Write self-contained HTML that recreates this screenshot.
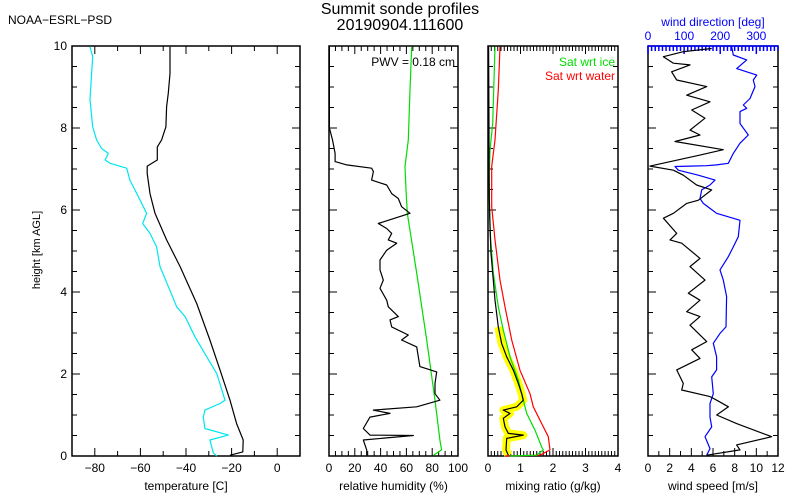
<!DOCTYPE html>
<html><head><meta charset="utf-8"><style>
body{margin:0;background:#fff;width:800px;height:500px;overflow:hidden}
svg{display:block}
text{font-family:"Liberation Sans",sans-serif;}
</style></head><body>
<svg id="c" width="800" height="500" viewBox="0 0 800 500">
<text x="8" y="24" font-size="12">NOAA−ESRL−PSD</text>
<text x="400" y="14" font-size="16" text-anchor="middle">Summit sonde profiles</text>
<text x="400" y="30" font-size="16" text-anchor="middle">20190904.111600</text>
<text transform="translate(40,250) rotate(-90)" font-size="11" text-anchor="middle">height [km AGL]</text>
</svg>
<script>
// Temperature panel
const tempH=[9.98,9.33,8.85,8.52,8.03,7.71,7.54,7.22,7.07,6.89,6.40,5.92,5.27,4.62,3.72,2.83,2.10,1.36,0.79,0.39,0.10,0.02];
const tempT=[-47.0,-47.0,-47.75,-48.5,-48.8,-50.7,-52.6,-52.6,-57.0,-57.0,-55.8,-53.6,-48.5,-42.6,-35.3,-29.5,-25.1,-20.7,-17.8,-14.9,-15.1,-20.7];
const dewH=[9.98,9.74,9.33,8.69,8.03,7.71,7.50,7.38,7.22,7.14,7.02,6.73,6.40,5.92,5.67,5.43,5.10,4.62,4.13,3.64,3.40,2.91,2.42,2.01,1.36,1.28,1.12,0.95,0.67,0.51,0.39,0.07,0.0];
const dewT=[-82.1,-80.9,-81.4,-82.1,-80.9,-79.2,-77.0,-74.1,-75.5,-73.3,-66,-64.6,-61.6,-57.3,-59,-55.8,-52.9,-51.4,-47.7,-44.1,-40.4,-36.1,-30.9,-26.5,-22.9,-25.1,-31.7,-32.4,-31.7,-21.4,-29.5,-28,-26.5];
// RH panel
const rhH=[9.98,8.0,7.71,7.38,7.18,7.1,7.02,6.94,6.73,6.61,6.40,6.28,6.08,5.92,5.67,5.55,5.43,5.27,5.19,5.02,4.78,4.54,4.29,4.09,3.8,3.64,3.40,3.32,3.15,2.95,2.83,2.66,2.18,2.05,1.77,1.52,1.36,1.20,1.12,1.04,0.95,0.67,0.51,0.50,0.39,0.15,0.02];
const rhV=[0.3,0.3,2.7,4.7,4.7,13.7,33,34.4,33,44.7,48.6,53.7,56.3,62.8,38.2,44.7,48.6,46,52.5,44.7,39.5,39.5,42.1,39.5,44.7,46,53.7,47.3,48.6,61.5,56.3,68,70.5,83.5,82.2,82.2,86,68,34.4,47.3,31.8,26.6,31.8,65.4,26.6,29.2,29.2];
const rhiH=[9.98,8.93,7.71,7.06,6.49,5.92,4.46,2.83,1.36,0.39,0.15,0.02];
const rhiV=[64.1,62.8,61.5,58.9,59.7,60.7,68,75.7,82.2,86,87.3,80.9];
// Mixing ratio panel
const mrH=[9.98,8.0,7.0,6.32,5.59,4.94,4.46,3.80,3.15,2.75,2.42,2.09,1.77,1.52,1.36,1.28,1.20,1.12,1.04,0.92,0.71,0.55,0.51,0.43,0.15,0.02];
const mrV=[0.02,0.03,0.03,0.041,0.062,0.092,0.144,0.215,0.318,0.42,0.574,0.78,0.933,1.036,1.087,0.985,0.882,0.472,0.677,0.472,0.523,0.626,1.087,0.574,0.554,0.626];
const iceH=[9.98,9.17,8.11,7.46,6.89,6.08,5.27,4.46,3.64,3.07,2.42,1.85,1.36,1.04,0.63,0.22,0.15,0.02,0.0];
const iceV=[0.215,0.185,0.144,0.062,0.041,0.041,0.082,0.164,0.318,0.472,0.677,0.933,1.087,1.19,1.446,1.651,1.703,1.497,0.677];
const watH=[9.98,8.93,7.71,7.06,6.08,5.27,4.29,3.64,2.83,2.09,1.52,1.2,0.79,0.47,0.15,0.02,0.0];
const watV=[0.37,0.318,0.215,0.113,0.113,0.215,0.37,0.523,0.728,0.985,1.292,1.395,1.651,1.856,1.908,1.6,0.523];
// Wind panel
const wsH=[9.94,9.86,9.74,9.58,9.54,9.37,9.17,9.01,8.80,8.64,8.44,8.24,7.95,7.83,7.67,7.47,7.34,7.07,6.97,6.85,6.61,6.49,6.24,6.16,5.92,5.80,5.43,5.27,5.19,4.82,4.62,4.29,3.97,3.80,3.52,3.40,3.19,2.79,2.59,2.38,2.10,1.77,1.61,1.45,1.36,1.20,1.00,0.79,0.47,0.27,0.15,0.02];
const wsV=[5.88,3.26,1.42,2.34,3.88,2.18,2.65,5.42,3.57,5.72,4.03,5.26,3.88,4.80,2.49,6.95,4.80,0.18,2.34,3.26,4.49,5.88,4.65,3.57,2.34,1.42,2.65,2.03,3.11,4.80,3.88,5.26,3.72,4.80,3.57,4.80,3.88,5.42,4.03,4.80,2.65,3.26,3.11,5.72,6.34,7.42,6.34,8.18,11.42,8.18,8.49,5.42];
const wdH=[9.98,9.78,9.66,9.45,9.29,9.17,9.01,8.72,8.56,8.48,8.40,8.11,7.83,7.63,7.38,7.14,7.10,7.08,7.07,7.06,6.97,6.85,6.73,6.61,6.49,6.28,6.16,6.04,5.92,5.75,5.35,5.10,4.86,4.54,4.29,3.89,3.15,2.99,2.75,2.42,2.10,1.93,1.52,1.28,0.95,0.71,0.47,0.18,0.02];
const wdV=[231.7,236.3,273.2,245.5,300.9,291.7,296.3,282.4,264,273.2,254.8,254.8,277.8,254.8,236.3,222.4,190.1,162.5,116.3,74.8,84,139.4,185.5,171.7,148.6,144,153.2,171.7,190.1,254.8,250.1,236.3,222.4,199.4,208.6,217.8,216,199.4,180.9,190.1,190.1,176.3,180.9,171.7,171.7,176.3,157.8,171.7,162.5];
const tempTicks=[-80,-60,-40,-20,0];
const rhTicks=[0,20,40,60,80,100];
const mrTicks=[0,1,2,3,4];
const wsTicks=[0,2,4,6,8,10,12];
const wdTicks=[0,100,200,300];
const hTicks=[0,2,4,6,8,10];

const NS='http://www.w3.org/2000/svg';
const svg=document.getElementById('c');
const Y0=456,Y1=46;
function yS(h){return Y0-(h/10)*(Y0-Y1);}
function mk(tag,attrs,parent){const e=document.createElementNS(NS,tag);for(const k in attrs)e.setAttribute(k,attrs[k]);(parent||svg).appendChild(e);return e;}
function panel(x0,x1,lo,hi,minor,ticks,label,name,leftLabels){
  const g=mk('g',{});
  
  
  const xs=v=>x0+(v-lo)/(hi-lo)*(x1-x0);
  const r=mk('rect',{x:x0,y:Y1,width:x1-x0,height:Y0-Y1,fill:'none',stroke:'#000','stroke-width':1.5},g);
  
  
  let d='';
  const n=Math.round((hi-lo)/minor);
  for(let i=0;i<=n;i++){const v=lo+i*minor;const x=xs(v);const maj=ticks.some(t=>Math.abs(t-v)<1e-6);const L=maj?8:5;
    d+=`M${x},${Y0}v${-L}`; if(!name.startsWith('wind'))d+=`M${x},${Y1}v${L}`;}
  for(let i=0;i<=20;i++){const h=i*0.5;const y=yS(h);const L=(i%4==0)?8:5;d+=`M${x0},${y}h${L}M${x1},${y}h${-L}`;}
  mk('path',{d:d,stroke:'#000','stroke-width':1,fill:'none'},g);
  ticks.forEach(t=>{const tx=mk('text',{x:xs(t),y:472,'font-size':12,'text-anchor':'middle'},g);tx.textContent=(t<0?'−'+(-t):t);
    
    });
  const lt=mk('text',{x:(x0+x1)/2,y:490,'font-size':12,'text-anchor':'middle'},g);lt.textContent=label;
  
  
  if(leftLabels){hTicks.forEach(h=>{const tx=mk('text',{x:x0-5,y:yS(h)+4,'font-size':12,'text-anchor':'end'},g);tx.textContent=h;
    
    });}
  return {g,xs};
}
function line(p,H,V,color,name,w){const pts=H.map((h,i)=>p.xs(V[i]).toFixed(1)+','+yS(h).toFixed(1)).join(' ');
  const l=mk('polyline',{points:pts,fill:'none',stroke:color,'stroke-width':w||1.2,'stroke-linejoin':'round'},p.g);
  
  return l;}

const p1=panel(72,300,-90,10,10,tempTicks,'temperature [C]','temperature',true);
line(p1,dewH,dewT,'#00e5ee','dewpoint-line');
line(p1,tempH,tempT,'#000','temperature-line');

const p2=panel(329,458,0,100,5,rhTicks,'relative humidity (%)','humidity',false);
line(p2,rhiH,rhiV,'#00dd00','rh-ice-line');
line(p2,rhH,rhV,'#000','rh-line');
const pw=mk('text',{x:455,y:66,'font-size':12,'text-anchor':'end'},p2.g);pw.textContent='PWV = 0.18 cm';



const p3=panel(488,618,0,4,0.1,mrTicks,'mixing ratio (g/kg)','mixing',false);
const mrBand=mrH.filter(h=>h<3.2);
line(p3,mrH.slice(mrH.length-mrBand.length),mrV.slice(mrV.length-mrBand.length),'#ffff00','mixing-uncertainty-band',8);
line(p3,watH,watV,'#ff0000','sat-water-line');
line(p3,iceH,iceV,'#00dd00','sat-ice-line');
line(p3,mrH,mrV,'#000','mixing-ratio-line');
const l1=mk('text',{x:615,y:66,'font-size':12,'text-anchor':'end',fill:'#00dd00'},p3.g);l1.textContent='Sat wrt ice';


const l2=mk('text',{x:615,y:80,'font-size':12,'text-anchor':'end',fill:'#ff0000'},p3.g);l2.textContent='Sat wrt water';



const p4=panel(648,778,0,12,1,wsTicks,'wind speed [m/s]','wind-speed',false);
const wdx=v=>648+v/360*130;
let dd='';for(let v=0;v<=360;v+=10){const x=wdx(v);dd+=`M${x},${Y1}v${v%100==0?8:5}`;}
const wdAx=mk('path',{d:dd+`M648,${Y1}H778`,stroke:'#0000ff','stroke-width':1.5,fill:'none'},p4.g);


wdTicks.forEach(t=>{const tx=mk('text',{x:wdx(t),y:40,'font-size':12,'text-anchor':'middle',fill:'#0000ff'},p4.g);tx.textContent=t;
  
  });
const wt=mk('text',{x:713,y:26,'font-size':12,'text-anchor':'middle',fill:'#0000ff'},p4.g);wt.textContent='wind direction [deg]';


const pw4={g:p4.g,xs:wdx};
line(pw4,wdH,wdV,'#0000ff','wind-direction-line');
line(p4,wsH,wsV,'#000','wind-speed-line');
</script>
</body></html>
